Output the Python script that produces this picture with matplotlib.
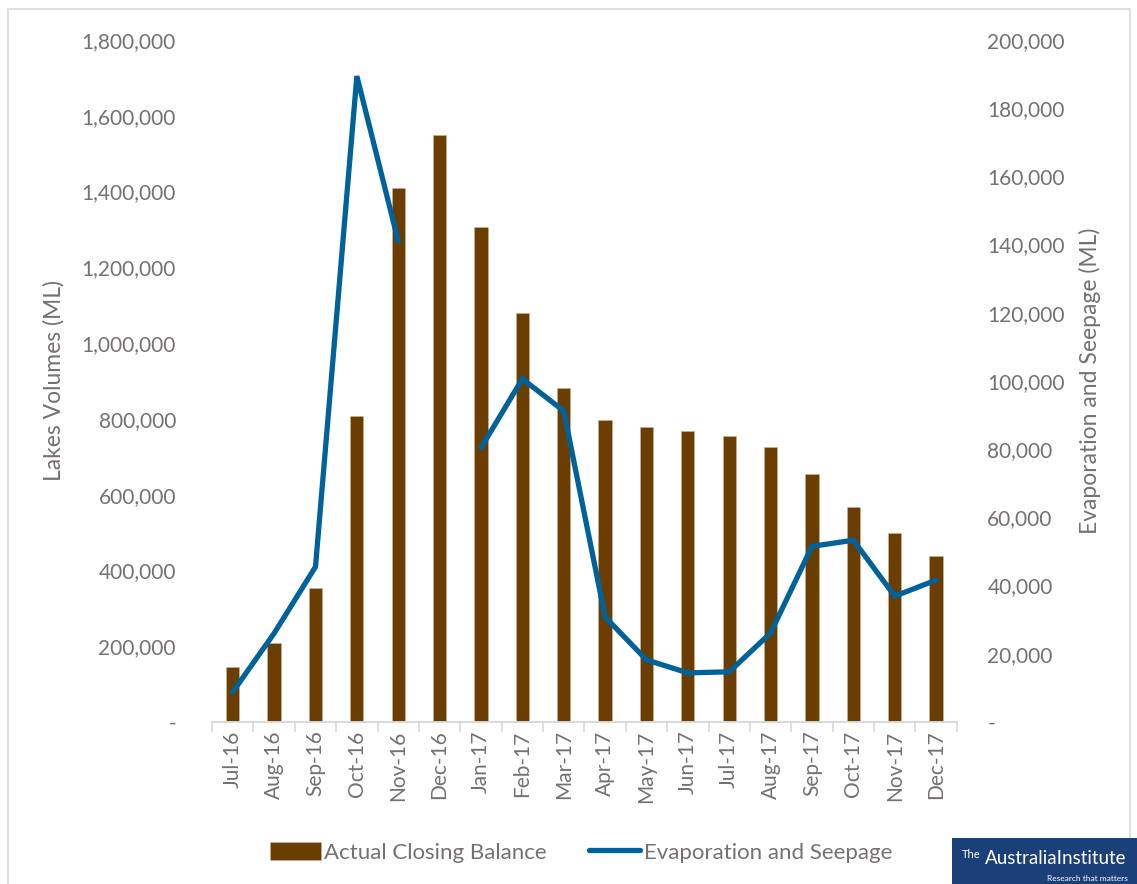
"""Lakes volumes vs evaporation and seepage, Jul-16 to Dec-17."""

import matplotlib

matplotlib.use("Agg")
from matplotlib import pyplot as plt
from matplotlib.patches import Rectangle
from matplotlib.ticker import FuncFormatter

import numpy as np

months = [
    "Jul-16", "Aug-16", "Sep-16", "Oct-16", "Nov-16", "Dec-16",
    "Jan-17", "Feb-17", "Mar-17", "Apr-17", "May-17", "Jun-17",
    "Jul-17", "Aug-17", "Sep-17", "Oct-17", "Nov-17", "Dec-17",
]
closing_balance = [
    146000, 208000, 354000, 807000, 1409000, 1549000,
    1306000, 1079000, 881000, 797000, 779000, 768000,
    755000, 726000, 655000, 567000, 499000, 439000,
]
# Dec-16 has no evaporation value in the source
evap_seepage = [
    8800, 26000, 45500, 189400, 141000, np.nan,
    80400, 100600, 91200, 30800, 18200, 14400,
    14700, 26100, 51500, 53300, 36900, 41600,
]

GREY = "#767171"
BROWN = "#6b3d00"
BLUE = "#00629b"

plt.rcParams["font.family"] = ["Lato", "DejaVu Sans"]

fig = plt.figure(figsize=(11.37, 8.84), dpi=100)
ax = fig.add_axes([0.1865, 0.1833, 0.655, 0.7715])
ax2 = ax.twinx()

x = np.arange(len(months))
bars = ax.bar(x, closing_balance, width=0.32, color=BROWN,
              edgecolor="#c9b79a", linewidth=0.4, zorder=2)
line, = ax2.plot(x, evap_seepage, color=BLUE, linewidth=3.8,
                 solid_capstyle="round", solid_joinstyle="miter", zorder=3)


def thousands(v, _):
    return "-" if v == 0 else f"{v:,.0f}"


ax.set_xlim(-0.5, len(months) - 0.5)
ax.set_ylim(0, 1800000)
ax.set_yticks(np.arange(0, 1800001, 200000))
ax2.set_ylim(0, 200000)
ax2.set_yticks(np.arange(0, 200001, 20000))
ax.yaxis.set_major_formatter(FuncFormatter(thousands))
ax2.yaxis.set_major_formatter(FuncFormatter(thousands))

ax.set_xticks(x)
ax.set_xticklabels(months, rotation=90)
ax.set_xticks(np.arange(-0.5, len(months), 1), minor=True)
ax.tick_params(axis="x", which="major", length=0, pad=6,
               labelsize=15, labelcolor=GREY)
ax.tick_params(axis="x", which="minor", length=7, width=1.2, color="#d9d9d9")
ax.tick_params(axis="y", length=0, pad=26, labelsize=15, labelcolor=GREY)
ax2.tick_params(axis="y", length=0, pad=22, labelsize=15, labelcolor=GREY)

for a in (ax, ax2):
    for side in ("top", "left", "right"):
        a.spines[side].set_visible(False)
    a.spines["bottom"].set_color("#d9d9d9")
    a.spines["bottom"].set_linewidth(1.2)

ax.set_ylabel("Lakes Volumes (ML)", fontsize=16.5, color=GREY, labelpad=12)
ax2.set_ylabel("Evaporation and Seepage (ML)", fontsize=16.5, color=GREY,
               labelpad=10)

fig.legend([bars, line], ["Actual Closing Balance", "Evaporation and Seepage"],
           loc="center", bbox_to_anchor=(0.511, 0.036), ncol=2, frameon=False,
           fontsize=16, labelcolor=GREY, handlelength=2.3, handleheight=0.9,
           handletextpad=0.15, columnspacing=1.9)

# outer chart border
fig.patches.append(Rectangle((0.007, -0.01), 0.987, 1.0, transform=fig.transFigure,
                             fill=False, edgecolor="#d9d9d9", linewidth=1.2))

# publisher logo in the corner
fig.patches.append(Rectangle((0.837, 0.0), 0.163, 0.052, transform=fig.transFigure,
                             facecolor="#1b3f78", edgecolor="none", zorder=5))
fig.text(0.846, 0.033, "The", fontsize=8, color="white", ha="left",
         va="center", zorder=6)
fig.text(0.866, 0.029, "AustraliaInstitute", fontsize=13.5, color="white",
         ha="left", va="center", zorder=6)
fig.text(0.992, 0.006, "Research that matters", fontsize=6, color="white",
         ha="right", va="center", zorder=6)

fig.savefig("out.png", dpi=100, facecolor="white")
